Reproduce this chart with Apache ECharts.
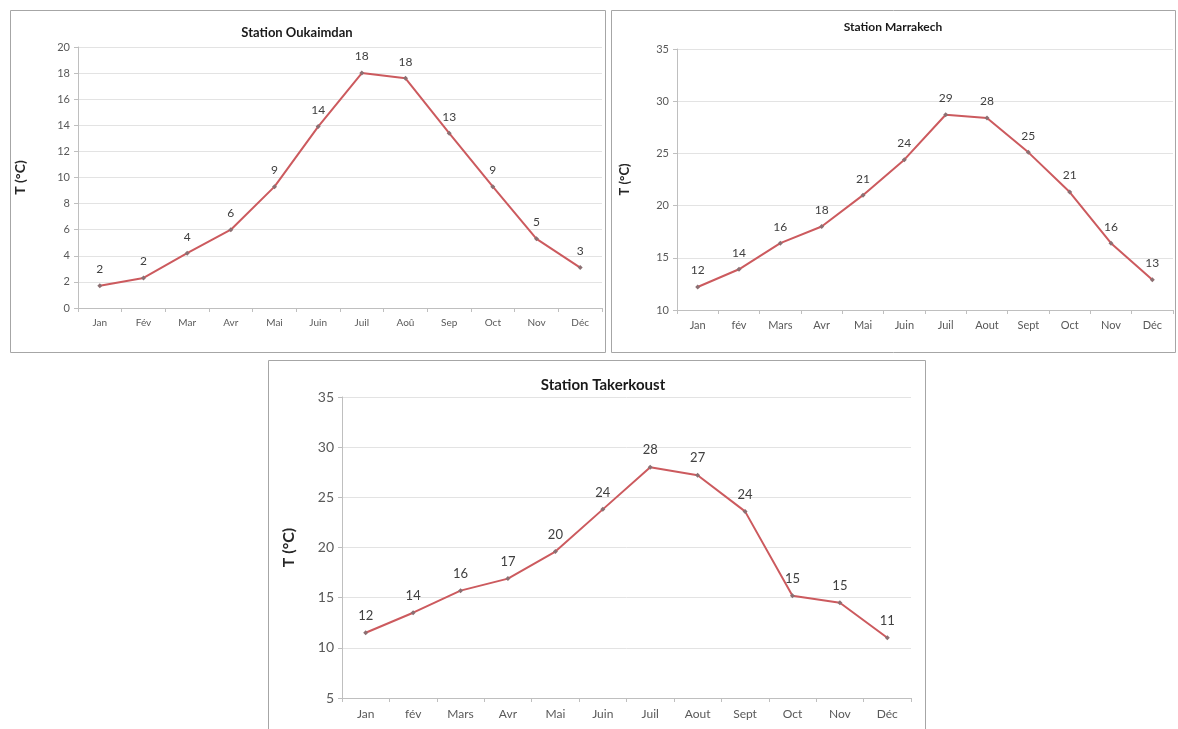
<!DOCTYPE html>
<html>
<head>
<meta charset="utf-8">
<script src="https://cdn.jsdelivr.net/npm/echarts@6/dist/echarts.min.js"></script>
<style>
html, body { margin: 0; padding: 0; background: #fff; }
#main { width: 1178px; height: 729px; }
</style>
</head>
<body>
<div id="main"></div>
<script>
// données mensuelles (T °C)
var moisOuk = ['Jan', 'Fév', 'Mar', 'Avr', 'Mai', 'Juin', 'Juil', 'Aoû', 'Sep', 'Oct', 'Nov', 'Déc'];
var moisMar = ['Jan', 'fév', 'Mars', 'Avr', 'Mai', 'Juin', 'Juil', 'Aout', 'Sept', 'Oct', 'Nov', 'Déc'];
var moisTak = ['Jan', 'fév', 'Mars', 'Avr', 'Mai', 'Juin', 'Juil', 'Aout', 'Sept', 'Oct', 'Nov', 'Déc'];

var tOukaimdan = [1.7, 2.3, 4.2, 6.0, 9.3, 13.9, 18.0, 17.6, 13.4, 9.3, 5.3, 3.1];
var tMarrakech = [12.2, 13.9, 16.4, 18.0, 21.0, 24.4, 28.7, 28.4, 25.1, 21.3, 16.4, 12.9];
var tTakerkoust = [11.5, 13.5, 15.7, 16.9, 19.6, 23.8, 28.0, 27.2, 23.6, 15.2, 14.5, 11.0];

var titres = ['Station Oukaimdan', 'Station Marrakech', 'Station Takerkoust'];

var lineColor = '#cc5a5e';
var fontFam = 'Lato, "Open Sans", sans-serif';

function xAxe(idx, cats, fs) {
    return {
        type: 'category', gridIndex: idx, data: cats, boundaryGap: true,
        axisLine: { lineStyle: { color: '#bfbfbf' } },
        axisTick: { show: true, alignWithLabel: false, length: 4, lineStyle: { color: '#bfbfbf' } },
        axisLabel: { color: '#595959', fontSize: fs, fontFamily: fontFam, margin: 10 }
    };
}
function yAxe(idx, min, max, step, fs, gap, nfs) {
    return {
        type: 'value', gridIndex: idx, min: min, max: max, interval: step,
        name: 'T (°C)', nameLocation: 'middle', nameGap: gap, nameRotate: 90,
        nameTextStyle: { fontWeight: 'bold', fontSize: nfs, color: '#262626', fontFamily: fontFam },
        axisLine: { show: true, lineStyle: { color: '#bfbfbf' } },
        axisTick: { show: true, length: 4, lineStyle: { color: '#bfbfbf' } },
        axisLabel: { color: '#595959', fontSize: fs, fontFamily: fontFam, margin: 8 },
        splitLine: { lineStyle: { color: '#e3e3e3' } }
    };
}
function serie(idx, vals, fs) {
    return {
        type: 'line', xAxisIndex: idx, yAxisIndex: idx, data: vals,
        symbol: 'diamond', symbolSize: 5,
        itemStyle: { color: '#8c6f72' },
        lineStyle: { color: lineColor, width: 2 },
        label: {
            show: true, position: 'top', distance: 8, color: '#404040', fontSize: fs, fontFamily: fontFam,
            formatter: function (p) { return Math.round(p.value); }
        },
        animation: false
    };
}

var myChart = echarts.init(document.getElementById('main'), null, { renderer: 'canvas' });

var option = {
    backgroundColor: '#fff',
    title: [
        { text: titres[0], left: 292, top: 21, textAlign: 'center', textStyle: { fontSize: 13, fontWeight: 'bold', color: '#1a1a1a', fontFamily: fontFam } },
        { text: titres[1], left: 888, top: 16, textAlign: 'center', textStyle: { fontSize: 12, fontWeight: 'bold', color: '#1a1a1a', fontFamily: fontFam } },
        { text: titres[2], left: 598, top: 373, textAlign: 'center', textStyle: { fontSize: 15, fontWeight: 'bold', color: '#1a1a1a', fontFamily: fontFam } }
    ],
    graphic: [
        { type: 'rect', shape: { x: 10.5, y: 10.5, width: 595, height: 342 }, style: { fill: 'none', stroke: '#a6a6a6', lineWidth: 1 } },
        { type: 'rect', shape: { x: 611.5, y: 10.5, width: 564, height: 342 }, style: { fill: 'none', stroke: '#a6a6a6', lineWidth: 1 } },
        { type: 'rect', shape: { x: 268.5, y: 360.5, width: 657, height: 380 }, style: { fill: 'none', stroke: '#a6a6a6', lineWidth: 1 } }
    ],
    grid: [
        { left: 78, top: 47, width: 524, height: 261 },
        { left: 677, top: 49, width: 496, height: 261 },
        { left: 342, top: 397, width: 569, height: 301 }
    ],
    xAxis: [xAxe(0, moisOuk, 10), xAxe(1, moisMar, 11), xAxe(2, moisTak, 12)],
    yAxis: [yAxe(0, 0, 20, 2, 11, 51, 14), yAxe(1, 10, 35, 5, 11, 46, 13), yAxe(2, 5, 35, 5, 14, 45, 16)],
    series: [serie(0, tOukaimdan, 12), serie(1, tMarrakech, 12), serie(2, tTakerkoust, 13)]
};

myChart.setOption(option);
</script>
</body>
</html>
